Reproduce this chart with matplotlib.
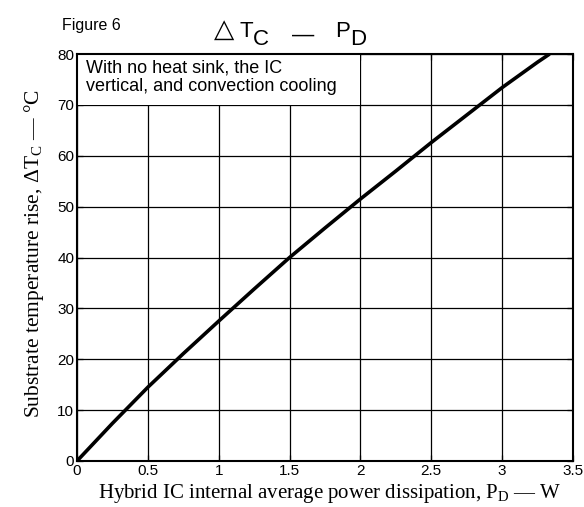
import matplotlib
matplotlib.use("Agg")
import matplotlib.pyplot as plt
import matplotlib.patches as mpatches

# Data
power_w = [0.0, 0.25, 0.5, 0.75, 1.0, 1.25, 1.5, 1.75, 2.0, 2.25, 2.5, 2.75, 3.0, 3.25, 3.335]
delta_tc = [0.0, 7.4, 14.5, 21.1, 27.5, 33.8, 40.0, 45.8, 51.5, 57.0, 62.6, 68.0, 73.4, 78.4, 80.0]

x_ticks = [0, 0.5, 1, 1.5, 2, 2.5, 3, 3.5]
x_tick_labels = ["0", "0.5", "1", "1.5", "2", "2.5", "3", "3.5"]
y_ticks = [0, 10, 20, 30, 40, 50, 60, 70, 80]

plt.rcParams['mathtext.fontset'] = 'custom'
plt.rcParams['mathtext.rm'] = 'Liberation Serif'
plt.rcParams['mathtext.it'] = 'Liberation Serif:italic'
plt.rcParams['mathtext.sf'] = 'Liberation Sans'

W, H = 584, 507
fig = plt.figure(figsize=(W / 100, H / 100), dpi=100)
ax = fig.add_axes([77 / W, 1 - 461 / H, (573 - 77) / W, (461 - 54) / H])

ax.set_xlim(0, 3.5)
ax.set_ylim(0, 80)
ax.set_xticks(x_ticks)
ax.set_xticklabels(x_tick_labels)
ax.set_yticks(y_ticks)
ax.grid(True, color='black', linewidth=0.9)
ax.set_axisbelow(True)
ax.tick_params(direction='in', length=4, width=0.9, top=True, right=True,
               labelsize=11, pad=2)
for lbl in ax.get_xticklabels() + ax.get_yticklabels():
    lbl.set_fontfamily('Liberation Sans')
for sp in ax.spines.values():
    sp.set_linewidth(1.5)

# white box behind the note
ax.add_patch(mpatches.Rectangle((0, 70), 2.0, 10, facecolor='white',
                                edgecolor='none', zorder=1.5))
ax.text(0.06, 78.9, "With no heat sink, the IC\nvertical, and convection cooling",
        fontsize=13, family='Liberation Sans', va='top', ha='left',
        linespacing=1.1, zorder=3)

ax.plot(power_w, delta_tc, color='black', linewidth=2.6, zorder=4,
        solid_capstyle='butt', solid_joinstyle='round')

ax.set_xlabel(r"Hybrid IC internal average power dissipation, P$_\mathrm{D}$ — W",
              fontsize=15, family='Liberation Serif')
ax.xaxis.set_label_coords(0.51, -0.052)
ax.set_ylabel(r"Substrate temperature rise, ΔT$_\mathrm{C}$ — °C",
              fontsize=15.5, family='Liberation Serif')
ax.yaxis.set_label_coords(-0.063, 0.51)

# Figure caption and title
fig.text(62 / W, 1 - 30 / H, "Figure 6", fontsize=11.5, family='Liberation Sans',
         ha='left', va='baseline')
base = 1 - 37 / H
sub = 1 - 45 / H
fig.text(214 / W, base, "△", fontsize=19, family='DejaVu Sans', ha='left', va='baseline')
fig.text(239 / W, base, "T", fontsize=16, family='Liberation Sans', ha='left', va='baseline')
fig.text(253 / W, sub, "C", fontsize=16, family='Liberation Sans', ha='left', va='baseline')
fig.text(292 / W, 1 - 41 / H, "—", fontsize=16, family='Liberation Sans', ha='left', va='baseline')
fig.text(335 / W, base, "P", fontsize=16, family='Liberation Sans', ha='left', va='baseline')
fig.text(350 / W, sub, "D", fontsize=16, family='Liberation Sans', ha='left', va='baseline')

fig.savefig("out.png", dpi=100)
